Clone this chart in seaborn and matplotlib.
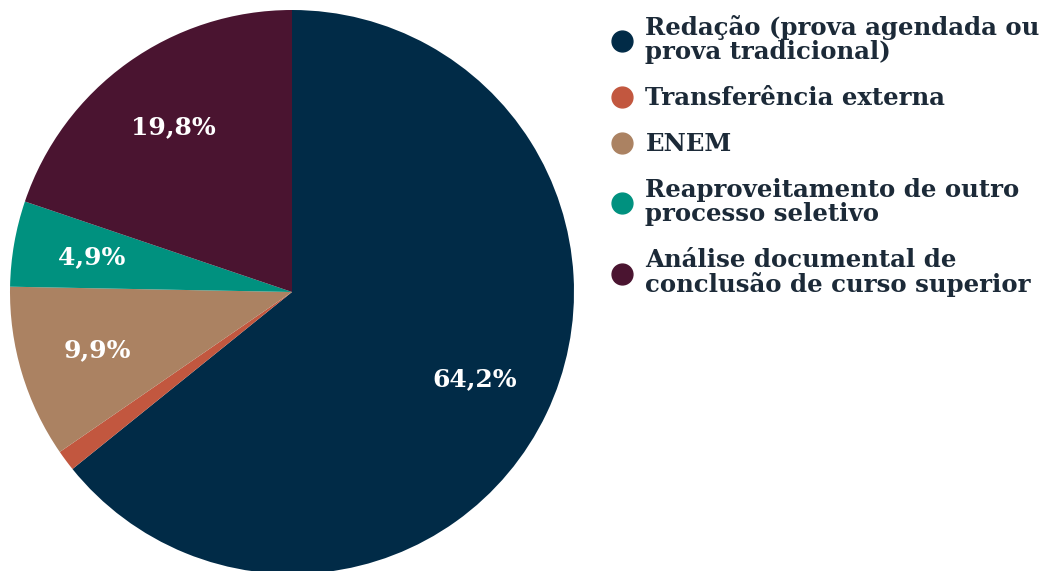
import matplotlib
matplotlib.use("Agg")
import matplotlib.pyplot as plt
from matplotlib.lines import Line2D
import seaborn as sns

# Dados
categorias = [
    "Redação (prova agendada ou\nprova tradicional)",
    "Transferência externa",
    "ENEM",
    "Reaproveitamento de outro\nprocesso seletivo",
    "Análise documental de\nconclusão de curso superior",
]
percentuais = [64.2, 1.2, 9.9, 4.9, 19.8]
cores = ["#012b47", "#c2573f", "#ab8262", "#00917f", "#4a1430"]

sns.set_theme(style="white")
plt.rcParams["font.family"] = ["DejaVu Serif"]

fig = plt.figure(figsize=(10.48, 5.71), dpi=100)
ax = fig.add_axes([10 / 1048, -3 / 571, 564 / 1048, 564 / 571])

def rotulo(p):
    if p < 2:
        return ""
    return f"{p:.1f}".replace(".", ",") + "%"

wedges, textos, autotextos = ax.pie(
    percentuais,
    colors=sns.color_palette(cores),
    startangle=90,
    counterclock=False,
    autopct=rotulo,
    pctdistance=0.72,
    wedgeprops={"linewidth": 0},
    textprops={"color": "white", "fontsize": 18, "fontweight": "bold"},
)
ax.set_xlim(-1, 1)
ax.set_ylim(-1, 1)
ax.set_aspect("equal")

handles = [
    Line2D([0], [0], marker="o", linestyle="", markersize=15,
           markerfacecolor=c, markeredgecolor=c)
    for c in cores
]
leg = fig.legend(
    handles, categorias,
    loc="upper left", bbox_to_anchor=(588 / 1048, 1.012),
    frameon=False, handletextpad=0.45,
    labelspacing=0.9, handlelength=1.0,
    prop={"weight": "bold", "size": 17.6},
)
for t in leg.get_texts():
    t.set_color("#1c2a38")
    t.set_linespacing(1.0)

plt.savefig("out.png", dpi=100)
